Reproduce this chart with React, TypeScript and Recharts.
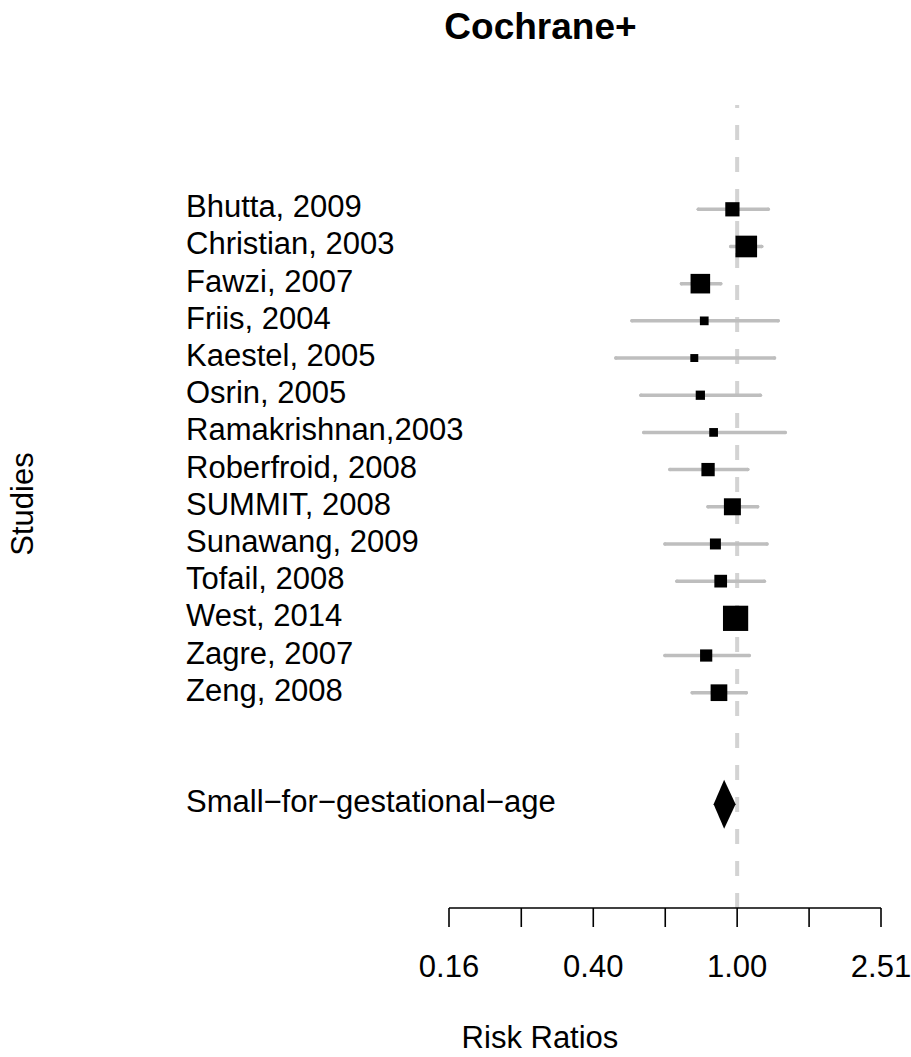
import React from "react";
import {
  ScatterChart, Scatter, XAxis, YAxis, ZAxis, ErrorBar, ReferenceLine, Customized,
} from "recharts";

// study rows, top to bottom
const STUDIES = [
  "Bhutta, 2009", "Christian, 2003", "Fawzi, 2007", "Friis, 2004",
  "Kaestel, 2005", "Osrin, 2005", "Ramakrishnan,2003", "Roberfroid, 2008",
  "SUMMIT, 2008", "Sunawang, 2009", "Tofail, 2008", "West, 2014",
  "Zagre, 2007", "Zeng, 2008",
];
const ESTIMATES = [0.97, 1.06, 0.79, 0.81, 0.76, 0.79, 0.86, 0.83, 0.97, 0.87, 0.90, 0.99, 0.82, 0.89];
const LOWER = [0.78, 0.96, 0.70, 0.51, 0.46, 0.54, 0.55, 0.65, 0.83, 0.63, 0.68, 0.95, 0.63, 0.75];
const UPPER = [1.22, 1.17, 0.90, 1.30, 1.27, 1.16, 1.36, 1.07, 1.14, 1.21, 1.19, 1.04, 1.08, 1.06];
const WEIGHTS = [6.4, 14.8, 12.1, 2.4, 2.0, 2.7, 2.4, 5.6, 9.1, 3.8, 5.1, 20.1, 4.7, 8.8];

// pooled estimate
const SUMMARY_LABEL = "Small−for−gestational−age";
const SUMMARY_EST = 0.92;
const SUMMARY_LO = 0.86;
const SUMMARY_HI = 0.99;

const AXIS_TICKS = [0.158, 0.251, 0.398, 0.631, 1, 1.585, 2.512];
const AXIS_LABELS = ["0.16", "", "0.40", "", "1.00", "", "2.51"];

const SUMMARY_ROW = STUDIES.length + 3;
const DIAMOND_HALF = 0.66;
const FONT = "'Liberation Sans', Arial, Helvetica, sans-serif";

const studyData = STUDIES.map((name, i) => ({
  name,
  x: ESTIMATES[i],
  y: i + 1,
  weight: WEIGHTS[i],
  err: [ESTIMATES[i] - LOWER[i], UPPER[i] - ESTIMATES[i]],
}));

const diamondData = [
  { x: SUMMARY_LO, y: SUMMARY_ROW },
  { x: SUMMARY_EST, y: SUMMARY_ROW - DIAMOND_HALF },
  { x: SUMMARY_HI, y: SUMMARY_ROW },
  { x: SUMMARY_EST, y: SUMMARY_ROW + DIAMOND_HALF },
];

const rowTicks = [...studyData.map((d) => d.y), SUMMARY_ROW];

function StudyTick(props: any) {
  const { y, payload } = props;
  const label = payload.value === SUMMARY_ROW ? SUMMARY_LABEL : STUDIES[payload.value - 1];
  return (
    <text x={186} y={y} dy={8} fontSize={31} fill="#000" textAnchor="start">
      {label}
    </text>
  );
}

function Titles() {
  return (
    <g>
      <text x={540.5} y={39} fontSize={37} fontWeight="bold" textAnchor="middle" fill="#000">
        Cochrane+
      </text>
      <text x={540} y={1048} fontSize={31} textAnchor="middle" fill="#000">
        Risk Ratios
      </text>
      <text transform="translate(33,504) rotate(-90)" fontSize={31} textAnchor="middle" fill="#000">
        Studies
      </text>
    </g>
  );
}

function Diamond(props: any) {
  const pts = (props.points || []).map((p: any) => `${p.x},${p.y}`).join(" ");
  return <polygon points={pts} fill="#000" stroke="none" />;
}

export default function App() {
  return (
    <div style={{ position: "absolute", left: 0, top: 0, fontFamily: FONT, background: "#fff" }}>
      <ScatterChart width={911} height={1057} margin={{ top: 105, right: 30, bottom: 89, left: 0 }}>
        <XAxis
          type="number"
          dataKey="x"
          scale="log"
          domain={[AXIS_TICKS[0], AXIS_TICKS[AXIS_TICKS.length - 1]]}
          allowDataOverflow
          ticks={AXIS_TICKS}
          interval={0}
          tickFormatter={(v: number) => AXIS_LABELS[AXIS_TICKS.indexOf(v)] ?? ""}
          tickSize={19}
          tickMargin={28}
          height={60}
          stroke="#000"
          axisLine={{ stroke: "#000", strokeWidth: 1.6 }}
          tickLine={{ stroke: "#000", strokeWidth: 1.6 }}
          tick={{ fontSize: 31, fill: "#000" }}
        />
        <YAxis
          type="number"
          dataKey="y"
          reversed
          domain={[-1.805, 19.79]}
          ticks={rowTicks}
          interval={0}
          width={449}
          axisLine={false}
          tickLine={false}
          tick={<StudyTick />}
        />
        <ZAxis type="number" dataKey="weight" domain={[0, 20]} range={[0, 637]} />
        <ReferenceLine x={1} stroke="#D3D3D3" strokeWidth={4} strokeDasharray="15 17" />
        <Scatter data={studyData} fill="#000" shape="square" isAnimationActive={false}>
          <ErrorBar dataKey="err" direction="x" width={0} stroke="#BEBEBE" strokeWidth={3.5} strokeLinecap="round" />
        </Scatter>
        <Scatter
          data={diamondData}
          fill="#000"
          shape={() => <g />}
          line={(p: any) => <Diamond {...p} />}
          isAnimationActive={false}
        />
        <Customized component={<Titles />} />
      </ScatterChart>
    </div>
  );
}
